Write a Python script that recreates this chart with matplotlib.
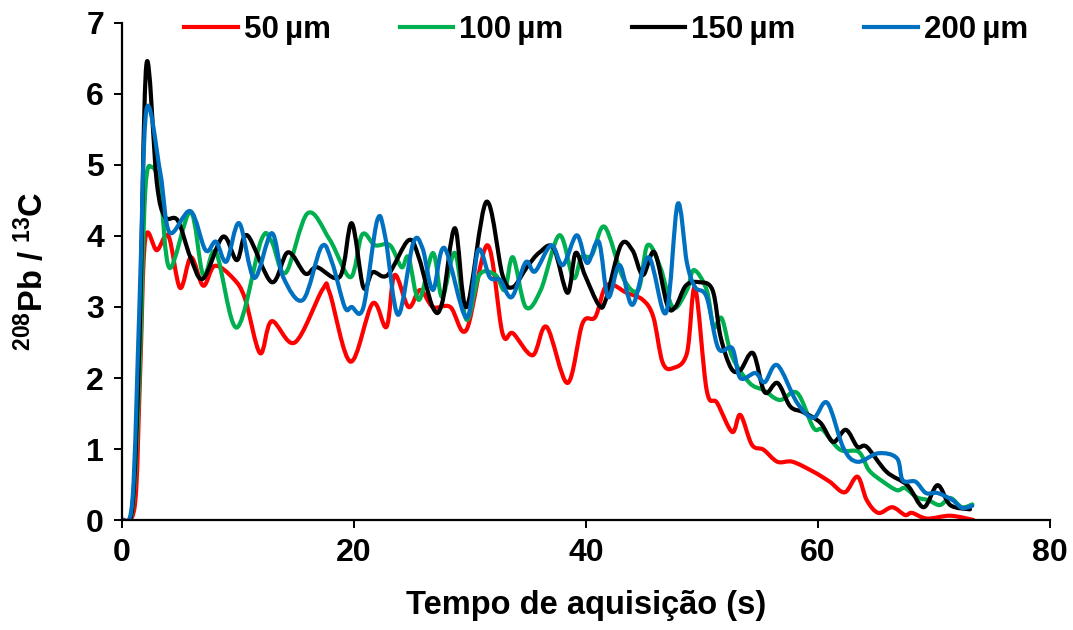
import numpy as np
import matplotlib
matplotlib.use("Agg")
from matplotlib import pyplot as plt
from matplotlib.path import Path
from matplotlib.patches import PathPatch
from matplotlib.lines import Line2D

plt.rcParams['font.family'] = ['Liberation Sans', 'DejaVu Sans']
plt.rcParams['font.weight'] = 'bold'
plt.rcParams['mathtext.fontset'] = 'custom'
plt.rcParams['mathtext.bf'] = 'Liberation Sans:bold'
plt.rcParams['mathtext.rm'] = 'Liberation Sans:bold'

# ---- data: acquisition time (s) and 208Pb/13C signal for each spot size ----
t_50 = [0, 1.1, 1.55, 2.0, 3.0, 4.0, 5.0, 5.95, 7.0, 8.0, 9.6, 10.6, 11.9, 12.9, 14.9,
        17.3, 17.9, 19.7, 21.6, 22.8, 23.5, 24.7, 25.7, 26.8, 28.3, 29.7, 31.5, 32.8,
        33.7, 35.4, 36.6, 38.4, 39.7, 40.8, 41.8, 43.5, 44.9, 45.8, 46.6, 47.5, 48.7,
        49.4, 50.4, 51.3, 52.6, 53.3, 54.3, 55.3, 56.5, 57.8, 59.6, 61.0, 62.3, 63.4,
        64.2, 65.2, 66.4, 67.5, 68.1, 69.4, 71.4, 73.4]
y_50 = [0, 0.2, 2.0, 3.95, 3.8, 4.0, 3.27, 3.7, 3.3, 3.58, 3.4, 3.12, 2.35, 2.8, 2.5,
        3.25, 3.2, 2.23, 3.05, 2.72, 3.45, 3.0, 3.24, 3.0, 3.0, 2.68, 3.87, 2.63,
        2.63, 2.32, 2.72, 1.93, 2.77, 2.86, 3.31, 3.2, 3.1, 2.86, 2.22, 2.14, 2.35,
        3.27, 1.83, 1.65, 1.24, 1.48, 1.06, 0.99, 0.82, 0.82, 0.68, 0.54, 0.39, 0.61,
        0.28, 0.1, 0.18, 0.07, 0.1, 0.02, 0.06, 0.0]

t_100 = [0, 0.9, 1.5, 2.0, 2.6, 3.3, 4.1, 5.9, 7.0, 8.1, 9.9, 12.0, 12.9, 14.1, 16.0,
         17.9, 19.7, 20.7, 21.8, 23.1, 24.1, 24.7, 25.6, 26.8, 27.6, 28.7, 29.7, 30.8,
         32.2, 33.0, 33.7, 34.8, 36.1, 37.7, 38.9, 39.6, 40.5, 41.6, 43.2, 44.5, 45.3,
         46.4, 47.5, 48.7, 49.3, 50.4, 51.0, 51.7, 52.6, 54.1, 55.3, 56.7, 58.2, 59.6,
         60.4, 61.9, 63.5, 64.4, 65.6, 66.8, 67.5, 68.5, 69.5, 70.5, 71.4, 72.4, 73.3]
y_100 = [0, 0.15, 2.0, 4.62, 4.97, 4.65, 3.55, 4.34, 3.45, 3.77, 2.71, 3.94, 3.92, 3.48, 4.32,
         3.95, 3.42, 4.02, 3.87, 3.87, 3.56, 3.7, 3.1, 3.76, 3.14, 3.76, 2.82, 3.45,
         3.45, 3.24, 3.7, 3.0, 3.24, 4.01, 3.41, 3.7, 3.73, 4.13, 3.41, 3.24, 3.87,
         3.56, 2.99, 3.24, 3.52, 3.24, 2.72, 2.84, 2.3, 1.93, 1.83, 1.69, 1.79, 1.3,
         1.27, 0.99, 0.96, 0.7, 0.54, 0.42, 0.45, 0.32, 0.28, 0.21, 0.31, 0.18, 0.22]

t_150 = [0, 0.9, 1.5, 2.1, 3.0, 3.7, 4.8, 5.9, 7.0, 8.7, 9.9, 10.8, 12.9, 14.3, 15.8,
         16.8, 18.8, 19.8, 20.8, 21.6, 22.9, 24.7, 25.6, 26.8, 27.6, 28.7, 29.7, 31.4,
         32.8, 33.7, 34.9, 36.0, 37.2, 38.4, 39.1, 39.9, 41.1, 41.7, 43.0, 44.0, 44.9,
         45.9, 47.0, 47.7, 48.6, 49.7, 50.9, 51.6, 52.5, 53.3, 54.4, 55.4, 56.5, 57.6,
         58.7, 60.2, 61.3, 62.4, 63.4, 64.2, 65.9, 67.7, 69.1, 70.3, 71.4, 73.1]
y_150 = [0, 0.2, 2.5, 6.41, 4.75, 4.27, 4.22, 3.7, 3.4, 3.99, 3.66, 4.01, 3.35, 3.77, 3.47,
         3.56, 3.43, 4.18, 3.28, 3.49, 3.45, 3.94, 3.69, 2.99, 3.06, 4.11, 3.0, 4.48,
         3.45, 3.28, 3.56, 3.77, 3.83, 3.2, 3.76, 3.45, 3.03, 3.1, 3.87, 3.8, 3.45,
         3.77, 3.03, 3.0, 3.3, 3.35, 3.24, 2.58, 2.14, 2.11, 2.35, 1.8, 1.93, 1.6,
         1.52, 1.37, 1.1, 1.27, 1.03, 1.03, 0.68, 0.49, 0.18, 0.49, 0.21, 0.15]

t_200 = [0, 0.9, 1.5, 2.1, 3.3, 4.1, 5.9, 7.2, 8.1, 9.0, 10.1, 11.4, 12.9, 13.9, 15.6,
         17.2, 18.1, 19.2, 19.8, 20.8, 22.0, 22.7, 23.8, 25.1, 25.9, 26.8, 27.8, 29.7,
         30.7, 31.7, 32.6, 33.6, 34.8, 35.6, 37.0, 38.0, 39.2, 40.1, 41.1, 41.9, 42.9,
         44.0, 45.4, 46.9, 47.9, 48.7, 49.4, 50.4, 51.4, 52.6, 53.3, 54.6, 55.4, 56.5,
         58.2, 59.6, 60.8, 62.2, 63.4, 65.2, 66.8, 67.3, 68.4, 69.3, 70.3, 71.6, 72.4,
         73.3]
y_200 = [0, 0.28, 3.0, 5.77, 4.89, 4.05, 4.35, 3.8, 3.92, 3.64, 4.18, 3.41, 4.04, 3.42, 3.1,
         3.85, 3.63, 3.0, 3.0, 2.99, 4.22, 3.98, 2.89, 3.9, 3.83, 3.24, 3.83, 2.85,
         3.8, 3.42, 3.38, 3.14, 3.63, 3.5, 3.87, 3.59, 4.01, 3.62, 3.92, 3.14, 3.59,
         3.03, 3.7, 2.92, 4.45, 3.62, 3.28, 3.14, 2.42, 2.42, 2.0, 2.07, 1.94, 2.18,
         1.65, 1.44, 1.65, 1.01, 0.82, 0.94, 0.87, 0.56, 0.54, 0.38, 0.38, 0.28, 0.17,
         0.2]

labels = ['50\u2009µm', '100\u2009µm', '150\u2009µm', '200\u2009µm']
colors = ['#FF0000', '#00B050', '#000000', '#0070C0']


def smooth_path(x, y):
    # Catmull-Rom through the points, written as cubic Bezier segments
    p = np.column_stack([x, y]).astype(float)
    ext = np.vstack([p[0], p, p[-1]])
    verts = [p[0]]
    codes = [Path.MOVETO]
    for i in range(1, len(ext) - 2):
        p0, p1, p2, p3 = ext[i - 1], ext[i], ext[i + 1], ext[i + 2]
        verts += [p1 + (p2 - p0) / 6.0, p2 - (p3 - p1) / 6.0, p2]
        codes += [Path.CURVE4] * 3
    return Path(verts, codes)


fig = plt.figure(figsize=(10.73, 6.3), dpi=100)
ax = fig.add_axes([0.1137, 0.1746, 0.8649, 0.7889])

series = [(t_50, y_50), (t_100, y_100), (t_150, y_150), (t_200, y_200)]
handles = []
for (tx, ty), c, lab in zip(series, colors, labels):
    patch = PathPatch(smooth_path(tx, ty), facecolor='none', edgecolor=c, lw=3,
                      capstyle='round', joinstyle='round')
    ax.add_patch(patch)
    handles.append(Line2D([], [], color=c, lw=3, label=lab))

ax.set_xlim(0, 80)
ax.set_ylim(0, 7)
ax.set_xticks(np.arange(0, 81, 20))
ax.set_yticks(np.arange(0, 8, 1))

for side in ['top', 'right']:
    ax.spines[side].set_visible(False)
for side in ['left', 'bottom']:
    ax.spines[side].set_linewidth(1.6)
ax.tick_params(axis='both', direction='out', length=6, width=1.4, labelsize=23, pad=7)
for lbl in ax.get_xticklabels() + ax.get_yticklabels():
    lbl.set_fontweight('bold')

ax.set_xlabel('Tempo de aquisição (s)', fontsize=23.5, fontweight='bold', labelpad=16)
ax.set_ylabel(r'$\mathbf{^{208}}$Pb / $\mathbf{^{13}}$C', fontsize=23.5, fontweight='bold',
              labelpad=26)

ax.legend(handles=handles, loc='center', bbox_to_anchor=(0.565, 0.952),
          bbox_transform=fig.transFigure, ncol=4, frameon=False,
          prop={'size': 22.5, 'weight': 'bold'}, handlelength=1.7,
          handletextpad=0.2, columnspacing=2.2)

plt.savefig('out.png', dpi=100)
plt.close()
